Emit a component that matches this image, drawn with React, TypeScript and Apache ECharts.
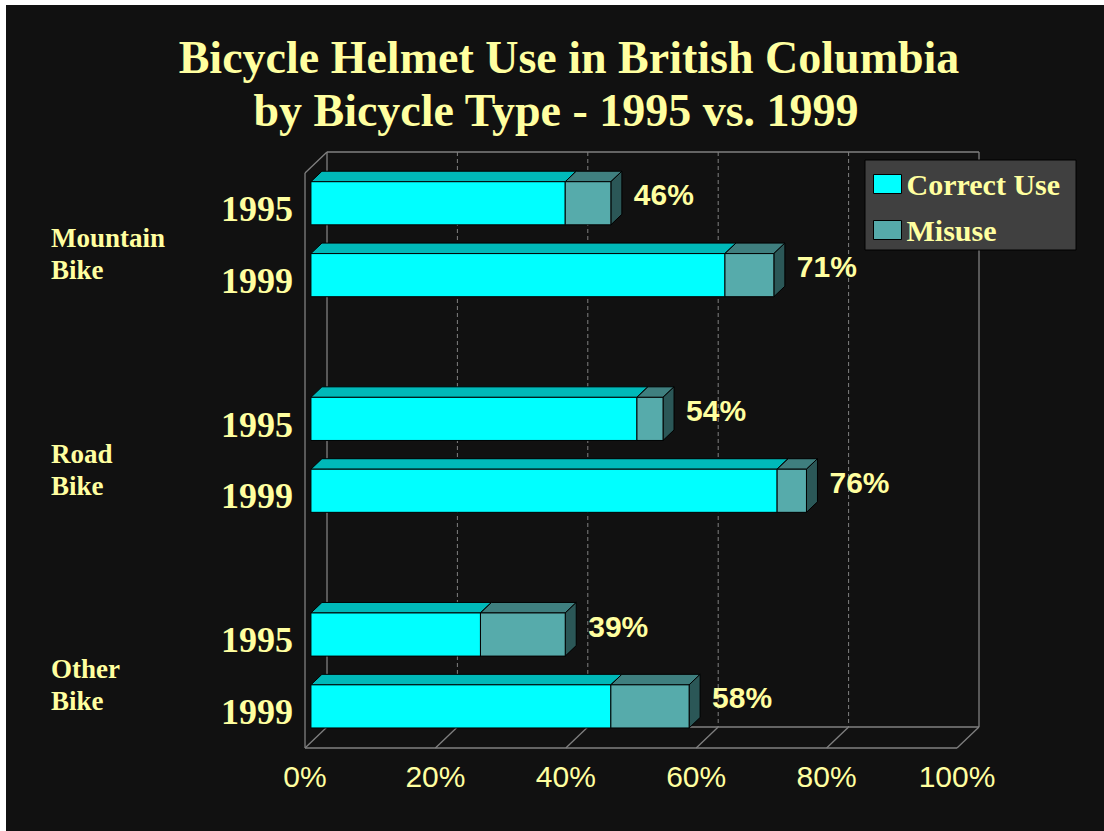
import React, { useEffect, useRef } from 'react';
import * as echarts from 'echarts';

// ---------- data ----------
const titleLines = ['Bicycle Helmet Use in British Columbia', 'by Bicycle Type - 1995 vs. 1999'];
const groups = ['Mountain\nBike', 'Road\nBike', 'Other\nBike'];
const years = ['1995', '1999'];
const seriesNames = ['Correct Use', 'Misuse'];
// order: Mountain 1995, Mountain 1999, Road 1995, Road 1999, Other 1995, Other 1999
const correctUse = [39, 63.5, 50, 71.5, 26, 46];
const misuse = [7, 7.5, 4, 4.5, 13, 12];
const totalLabels = ['46%', '71%', '54%', '76%', '39%', '58%'];
const xTicks = [0, 20, 40, 60, 80, 100];

// ---------- styling ----------
const TEXT = '#FFFFA0';
const BG = '#111111';
const FRAME = '#808080';
const DEPTH = [22, -21];
const BAR_FRONT = 0.27;
const BAR_DEPTH = 0.5;
const BAR_THICK = 0.6;
const COLORS: Record<string, { front: string; top: string; side: string }> = {
  'Correct Use': { front: '#00FFFF', top: '#00B9B9', side: '#008A8A' },
  Misuse: { front: '#56ABAB', top: '#3F7F7F', side: '#2B5757' },
};

// category slots: 2 bars per group + a gap slot between groups
const slots: string[] = [];
const barSlot: number[] = [];
groups.forEach((g, gi) => {
  years.forEach((y) => {
    barSlot.push(slots.length);
    slots.push(`${g}|${y}`);
  });
  if (gi < groups.length - 1) slots.push(`gap${gi}`);
});

function barRenderer(name: string, withLabel: boolean) {
  const c = COLORS[name];
  return (params: any, api: any) => {
    const start = api.value(0);
    const slot = api.value(1);
    const end = api.value(2);
    const idx = api.value(3);
    const a = api.coord([start, slot]);
    const b = api.coord([end, slot]);
    const band = api.size([0, 1])[1];
    const fh = band * BAR_THICK;
    const ox = DEPTH[0] * BAR_FRONT;
    const oy = DEPTH[1] * BAR_FRONT;
    const dx = DEPTH[0] * BAR_DEPTH;
    const dy = DEPTH[1] * BAR_DEPTH;
    const x = a[0] + ox;
    const y = a[1] + oy - fh / 2;
    const w = b[0] - a[0];
    const st = { stroke: '#000000', lineWidth: 1 };
    const children: any[] = [
      {
        type: 'polygon',
        shape: { points: [[x, y], [x + dx, y + dy], [x + w + dx, y + dy], [x + w, y]] },
        style: { fill: c.top, ...st },
      },
      {
        type: 'polygon',
        shape: { points: [[x + w, y], [x + w + dx, y + dy], [x + w + dx, y + fh + dy], [x + w, y + fh]] },
        style: { fill: c.side, ...st },
      },
      { type: 'rect', shape: { x, y, width: w, height: fh }, style: { fill: c.front, ...st } },
    ];
    if (withLabel) {
      children.push({
        type: 'text',
        x: x + w + dx + 12,
        y: y + fh / 2 + dy * 0.8,
        style: {
          text: totalLabels[idx],
          fill: TEXT,
          fontSize: 30,
          fontWeight: 'bold',
          fontFamily: '"Liberation Sans", Arial, sans-serif',
          align: 'left',
          verticalAlign: 'middle',
        },
      });
    }
    return { type: 'group', children };
  };
}

function frameRenderer(params: any, api: any) {
  const cs = params.coordSys;
  const x0 = cs.x;
  const y0 = cs.y;
  const w = cs.width;
  const h = cs.height;
  const [dx, dy] = DEPTH;
  const solid = { stroke: FRAME, lineWidth: 1.3 };
  const dashed = { stroke: FRAME, lineWidth: 1, lineDash: [4, 3] };
  const ln = (x1: number, y1: number, x2: number, y2: number, style: any) => ({
    type: 'line',
    shape: { x1, y1, x2, y2 },
    style,
  });
  const children: any[] = [
    ln(x0 + dx, y0 + dy, x0 + w + dx, y0 + dy, solid),
    ln(x0 + dx, y0 + dy, x0 + dx, y0 + h + dy, solid),
    ln(x0 + w + dx, y0 + dy, x0 + w + dx, y0 + h + dy, solid),
    ln(x0 + dx, y0 + h + dy, x0 + w + dx, y0 + h + dy, solid),
    ln(x0, y0, x0, y0 + h, solid),
    ln(x0, y0, x0 + dx, y0 + dy, solid),
    ln(x0, y0 + h, x0 + w, y0 + h, solid),
  ];
  xTicks.forEach((t) => {
    const px = api.coord([t, 0])[0];
    children.push(ln(px, y0 + h, px + dx, y0 + h + dy, solid));
    if (t > xTicks[0] && t < xTicks[xTicks.length - 1]) {
      children.push(ln(px + dx, y0 + dy, px + dx, y0 + h + dy, dashed));
    }
  });
  return { type: 'group', children };
}

function groupLabelRenderer(params: any, api: any) {
  const slot = api.value(1);
  const gi = api.value(2);
  const p = api.coord([0, slot]);
  const q = api.coord([0, slot + 1]);
  return {
    type: 'text',
    x: 45,
    y: p[1] + (q[1] - p[1]) * 0.63,
    style: {
      text: groups[gi],
      fill: TEXT,
      fontSize: 27,
      fontWeight: 'bold',
      fontFamily: '"Liberation Serif", "Times New Roman", serif',
      lineHeight: 32,
      align: 'left',
      verticalAlign: 'middle',
    },
  };
}

export default function App() {
  const ref = useRef<HTMLDivElement>(null);
  useEffect(() => {
    if (!ref.current) return;
    const chart = echarts.init(ref.current, undefined, { renderer: 'svg' });
    const correctData = correctUse.map((v, i) => [0, barSlot[i], v, i]);
    const misuseData = misuse.map((v, i) => [correctUse[i], barSlot[i], correctUse[i] + v, i]);
    const serif = '"Liberation Serif", "Times New Roman", serif';
    chart.setOption({
      animation: false,
      backgroundColor: BG,
      title: [
        {
          text: titleLines[0],
          left: 563,
          top: 29,
          padding: 0,
          textAlign: 'center',
          textStyle: { color: TEXT, fontSize: 46, fontWeight: 'bold', fontFamily: serif },
        },
        {
          text: titleLines[1],
          left: 550,
          top: 82,
          padding: 0,
          textAlign: 'center',
          textStyle: { color: TEXT, fontSize: 46, fontWeight: 'bold', fontFamily: serif },
        },
      ],
      legend: {
        data: seriesNames,
        orient: 'vertical',
        left: 859,
        top: 155,
        padding: [9, 16, 5, 8],
        backgroundColor: '#404040',
        borderColor: '#000000',
        borderWidth: 1,
        icon: 'rect',
        itemWidth: 28,
        itemHeight: 19,
        itemGap: 16,
        selectedMode: false,
        itemStyle: { borderColor: '#000000', borderWidth: 1 },
        textStyle: { color: TEXT, fontSize: 30, fontWeight: 'bold', fontFamily: serif, lineHeight: 30 },
      },
      grid: {
        left: 299,
        top: 168,
        width: 652,
        height: 575,
        containLabel: false,
        outerBoundsMode: 'none',
      },
      xAxis: {
        type: 'value',
        min: 0,
        max: 100,
        interval: 20,
        axisLine: { show: false },
        axisTick: { show: false },
        splitLine: { show: false },
        axisLabel: {
          formatter: '{value}%',
          color: TEXT,
          fontSize: 30,
          fontFamily: '"Liberation Sans", Arial, sans-serif',
          margin: 13,
        },
      },
      yAxis: {
        type: 'category',
        data: slots,
        inverse: true,
        axisLine: { show: false },
        axisTick: { show: false },
        splitLine: { show: false },
        axisLabel: {
          formatter: (v: string) => (v.indexOf('|') < 0 ? '' : v.split('|')[1]),
          color: TEXT,
          fontSize: 36,
          fontWeight: 'bold',
          fontFamily: serif,
          margin: 12,
        },
      },
      series: [
        {
          type: 'custom',
          name: 'frame',
          silent: true,
          clip: false,
          renderItem: frameRenderer,
          data: [[0, 0]],
          encode: { x: 0, y: 1 },
        },
        {
          type: 'custom',
          name: 'groups',
          silent: true,
          clip: false,
          renderItem: groupLabelRenderer,
          data: groups.map((g, i) => [0, barSlot[i * 2], i]),
          encode: { x: 0, y: 1 },
        },
        {
          type: 'custom',
          name: seriesNames[0],
          clip: false,
          itemStyle: { color: COLORS[seriesNames[0]].front, borderColor: '#000000', borderWidth: 1 },
          renderItem: barRenderer(seriesNames[0], false),
          data: correctData,
          encode: { x: [0, 2], y: 1 },
        },
        {
          type: 'custom',
          name: seriesNames[1],
          clip: false,
          itemStyle: { color: COLORS[seriesNames[1]].front, borderColor: '#000000', borderWidth: 1 },
          renderItem: barRenderer(seriesNames[1], true),
          data: misuseData,
          encode: { x: [0, 2], y: 1 },
        },
      ],
    });
    return () => chart.dispose();
  }, []);
  return (
    <div
      ref={ref}
      style={{ position: 'absolute', left: 6, top: 5, width: 1098, height: 826, background: BG }}
    />
  );
}
